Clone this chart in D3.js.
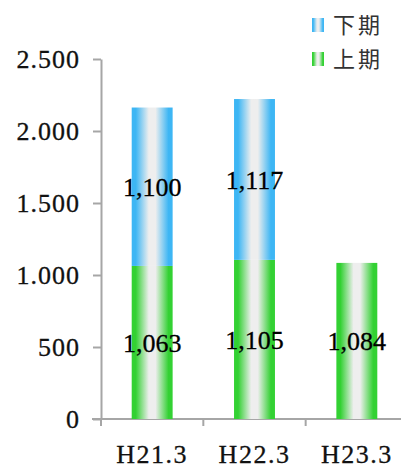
<!DOCTYPE html>
<html>
<head>
<meta charset="utf-8">
<script src="https://cdn.jsdelivr.net/npm/d3@7/dist/d3.min.js"></script>
<style>
  html, body { margin: 0; padding: 0; background: #fff; }
  svg { display: block; }
</style>
</head>
<body>
<svg id="chart" width="401" height="468"></svg>
<script>
// Fiscal-period categories and half-year amounts
const categories = ["H21.3", "H22.3", "H23.3"];
const firstHalf = [1063, 1105, 1084];   // 上期
const secondHalf = [1100, 1117, null];  // 下期
const yTickValues = [0, 500, 1000, 1500, 2000, 2500];
const yTickLabels = ["0", "500", "1.000", "1.500", "2.000", "2.500"];
const seriesNames = ["下期", "上期"];

const svg = d3.select("#chart");
const defs = svg.append("defs");

// Cylinder-like horizontal gradients for each series
function addGradient(id, edge) {
  const g = defs.append("linearGradient").attr("id", id)
    .attr("x1", "0%").attr("x2", "100%").attr("y1", "0%").attr("y2", "0%");
  [[0, edge], [0.1, edge], [0.42, "#eeeeee"], [0.58, "#eeeeee"], [0.9, edge], [1, edge]]
    .forEach(([o, c]) => g.append("stop").attr("offset", o).attr("stop-color", c));
}
addGradient("gBlue", "#3db6f4");
addGradient("gGreen", "#33d133");

const x = d3.scaleBand().domain(categories).range([101, 408])
  .paddingInner(0.6).paddingOuter(0.3);
const y = d3.scaleLinear().domain([0, 2500]).range([419, 59]);

const axisColor = "#a6a6a6";
const serif = "'Liberation Serif', 'Times New Roman', serif";

// Y axis
const yAxis = svg.append("g").attr("transform", "translate(101,0)")
  .call(d3.axisLeft(y).tickValues(yTickValues)
    .tickFormat((d, i) => yTickLabels[i]).tickSize(8).tickSizeOuter(0).tickPadding(13));
yAxis.select(".domain").attr("stroke", axisColor).attr("stroke-width", 2);
yAxis.selectAll(".tick line").attr("stroke", axisColor).attr("stroke-width", 2);
yAxis.selectAll(".tick text").attr("fill", "#111").attr("stroke", "#111").attr("stroke-width", 0.3)
  .style("font-family", serif).style("font-size", "26px").style("letter-spacing", "1px");

// X axis line and boundary ticks
const xAxis = svg.append("g").attr("transform", "translate(0,419)")
  .call(d3.axisBottom(x).tickSize(0).tickSizeOuter(0).tickPadding(0));
xAxis.select(".domain").remove();
xAxis.append("line").attr("x1", 92).attr("x2", 401).attr("y1", 0).attr("y2", 0)
  .attr("stroke", axisColor).attr("stroke-width", 2);
const step = x.step();
const boundaries = categories.map(c => x(c) - step * 0.3);
xAxis.selectAll(".bound").data(boundaries).enter().append("line")
  .attr("x1", d => d).attr("x2", d => d).attr("y1", 0).attr("y2", 7)
  .attr("stroke", axisColor).attr("stroke-width", 2);
xAxis.selectAll(".tick text").attr("y", 44).attr("dy", 0).attr("fill", "#111")
  .attr("stroke", "#111").attr("stroke-width", 0.3)
  .style("font-family", serif).style("font-size", "26px").style("letter-spacing", "1.5px");

// Stacked bars
const bars = svg.append("g");
categories.forEach((c, i) => {
  const lo = firstHalf[i];
  bars.append("rect").attr("x", x(c)).attr("width", x.bandwidth())
    .attr("y", y(lo)).attr("height", y(0) - y(lo)).attr("fill", "url(#gGreen)");
  if (secondHalf[i] != null) {
    const hi = lo + secondHalf[i];
    bars.append("rect").attr("x", x(c)).attr("width", x.bandwidth())
      .attr("y", y(hi)).attr("height", y(lo) - y(hi)).attr("fill", "url(#gBlue)");
  }
});

// Value labels centred in each segment
const fmt = d3.format(",");
const labels = svg.append("g").style("font-family", serif).style("font-size", "26px")
  .attr("fill", "#000").attr("stroke", "#000").attr("stroke-width", 0.3)
  .attr("text-anchor", "middle");
categories.forEach((c, i) => {
  const cx = x(c) + x.bandwidth() / 2;
  const lo = firstHalf[i];
  labels.append("text").attr("x", cx).attr("y", y(lo / 2)).attr("dy", "0.35em").text(fmt(lo));
  if (secondHalf[i] != null) {
    labels.append("text").attr("x", cx).attr("y", y(lo + secondHalf[i] / 2))
      .attr("dy", "0.35em").text(fmt(secondHalf[i]));
  }
});

// Legend
const legend = svg.append("g");
const legendRows = [["gBlue", seriesNames[0], 25], ["gGreen", seriesNames[1], 59]];
legendRows.forEach(([grad, name, cy]) => {
  legend.append("rect").attr("x", 312).attr("y", cy - 7).attr("width", 12).attr("height", 14)
    .attr("fill", `url(#${grad})`);
  legend.append("text").attr("x", 333).attr("y", cy).attr("dy", "0.36em")
    .style("font-family", "'Noto Sans CJK JP', sans-serif").style("font-size", "22px")
    .style("letter-spacing", "3px").attr("fill", "#333").text(name);
});
</script>
</body>
</html>
